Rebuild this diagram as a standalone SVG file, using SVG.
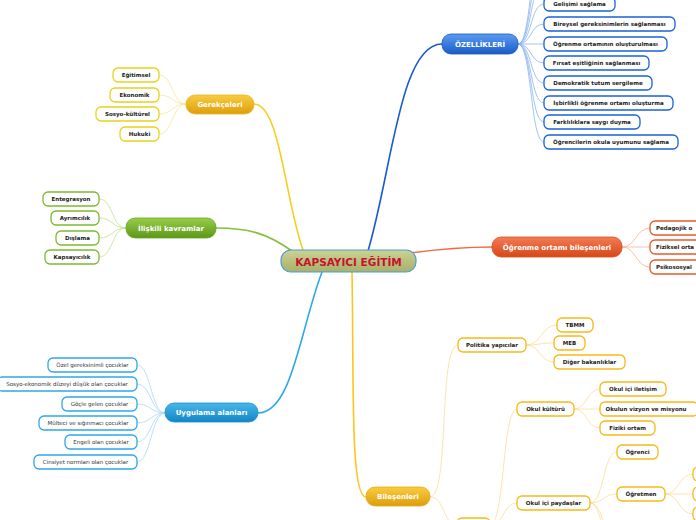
<svg xmlns="http://www.w3.org/2000/svg" width="696" height="520" viewBox="0 0 696 520">
<defs>
<linearGradient id="gBlue" x1="0" y1="0" x2="0" y2="1"><stop offset="0" stop-color="#5a9cf2"/><stop offset="1" stop-color="#1a5cc6"/></linearGradient>
<linearGradient id="gGold" x1="0" y1="0" x2="0" y2="1"><stop offset="0" stop-color="#f8cc40"/><stop offset="1" stop-color="#dd9e0c"/></linearGradient>
<linearGradient id="gGreen" x1="0" y1="0" x2="0" y2="1"><stop offset="0" stop-color="#98cc48"/><stop offset="1" stop-color="#5c9818"/></linearGradient>
<linearGradient id="gOrange" x1="0" y1="0" x2="0" y2="1"><stop offset="0" stop-color="#f27c54"/><stop offset="1" stop-color="#d64818"/></linearGradient>
<linearGradient id="gSky" x1="0" y1="0" x2="0" y2="1"><stop offset="0" stop-color="#48b6ea"/><stop offset="1" stop-color="#1286c6"/></linearGradient>
<linearGradient id="gCenter" x1="0" y1="0" x2="0" y2="1"><stop offset="0" stop-color="#cbd294"/><stop offset="1" stop-color="#a8b06a"/></linearGradient>
<style>
text{font-family:"DejaVu Sans","Liberation Sans",sans-serif;text-anchor:middle;dominant-baseline:central}
.main{font-size:7px;font-weight:bold;fill:#fff}
.leaf{font-size:5.5px;font-weight:bold;fill:#222}
.leafn{font-size:5.5px;fill:#333}
.c rect{fill:#fff;stroke-width:1.3}
.cb rect{stroke:#1a62d8}
.cy rect{stroke:#e6d41c}
.cg rect{stroke:#7cba2e}
.co rect{stroke:#e85a2a}
.cs rect{stroke:#2ea8e8}
.cgo rect{stroke:#f8b818}
#connectors path{fill:none}
.kb{stroke:#1a5ad0;stroke-width:1.6}
.ky{stroke:#f2d020;stroke-width:1.6}
.kg{stroke:#86c03a;stroke-width:1.6}
.ko{stroke:#f06a40;stroke-width:1.6}
.ks{stroke:#2ea8e8;stroke-width:1.6}
.kgo{stroke:#ffc420;stroke-width:1.6}
.tb{stroke:#8ab4f0;stroke-width:0.8}
.ty{stroke:#f4e890;stroke-width:0.8}
.tg{stroke:#c0e090;stroke-width:0.8}
.to{stroke:#f8b098;stroke-width:0.8}
.ts{stroke:#a8d8f4;stroke-width:0.8}
.tgo{stroke:#fddc98;stroke-width:0.8}
</style>
</defs>
<rect width="696" height="520" fill="#fff"/>
<g id="connectors">
<path class="kb" d="M368,251 C392,170 400,44 442,44"/>
<path class="ky" d="M254,104 C280,104 285,200 303,250"/>
<path class="kg" d="M216,228 C250,228 268,234 292,251"/>
<path class="ko" d="M410,253 C440,249 460,247 492,247"/>
<path class="ks" d="M258,413 C292,413 300,330 322,272"/>
<path class="kgo" d="M352,272 C354,380 350,497 366,497"/>
<path class="tb" d="M518,44 C532,44 530,-60 544,-60"/>
<path class="tb" d="M518,44 C532,44 530,-40 544,-40"/>
<path class="tb" d="M518,44 C532,44 530,-18 544,-18"/>
<path class="tb" d="M518,44 C532,44 530,4 544,4"/>
<path class="tb" d="M518,44 C532,44 530,24 544,24"/>
<path class="tb" d="M518,44 C532,44 530,44 544,44"/>
<path class="tb" d="M518,44 C532,44 530,63 544,63"/>
<path class="tb" d="M518,44 C532,44 530,83 544,83"/>
<path class="tb" d="M518,44 C532,44 530,103 544,103"/>
<path class="tb" d="M518,44 C532,44 530,122 544,122"/>
<path class="tb" d="M518,44 C532,44 530,142 544,142"/>
<path class="ty" d="M186,104 C172,104 173,75 159,75"/>
<path class="ty" d="M186,104 C172,104 173,95 159,95"/>
<path class="ty" d="M186,104 C172,104 173,114 159,114"/>
<path class="ty" d="M186,104 C172,104 173,134 159,134"/>
<path class="tg" d="M126,228 C112,228 113,199 99,199"/>
<path class="tg" d="M126,228 C112,228 113,218 99,218"/>
<path class="tg" d="M126,228 C112,228 113,238 99,238"/>
<path class="tg" d="M126,228 C112,228 113,257 99,257"/>
<path class="to" d="M622,247 C636,247 636,228 650,228"/>
<path class="to" d="M622,247 C636,247 636,247 650,247"/>
<path class="to" d="M622,247 C636,247 636,267 650,267"/>
<path class="ts" d="M165,413 C151,413 151,365 137,365"/>
<path class="ts" d="M165,413 C151,413 151,384 137,384"/>
<path class="ts" d="M165,413 C151,413 151,404 137,404"/>
<path class="ts" d="M165,413 C151,413 151,423 137,423"/>
<path class="ts" d="M165,413 C151,413 151,442 137,442"/>
<path class="ts" d="M165,413 C151,413 151,462 137,462"/>
<path class="tgo" d="M430,497 C450,497 438,345 458,345"/>
<path class="tgo" d="M430,497 C445,497 443,525 457,525"/>
<path class="tgo" d="M526,345 C542,345 541,325 557,325"/>
<path class="tgo" d="M526,345 C540,345 540,343 554,343"/>
<path class="tgo" d="M526,345 C540,345 540,362 554,362"/>
<path class="tgo" d="M490,525 C505,525 502,409 517,409"/>
<path class="tgo" d="M490,525 C505,525 502,503 517,503"/>
<path class="tgo" d="M574,409 C587,409 587,389 600,389"/>
<path class="tgo" d="M574,409 C587,409 587,409 600,409"/>
<path class="tgo" d="M574,409 C587,409 587,428 600,428"/>
<path class="tgo" d="M590,503 C604,503 603,452 617,452"/>
<path class="tgo" d="M590,503 C604,503 603,494 617,494"/>
<path class="tgo" d="M590,503 C604,503 603,540 617,540"/>
<path class="tgo" d="M590,503 C604,503 603,560 617,560"/>
<path class="tgo" d="M665,494 C679,494 679,474 693,474"/>
<path class="tgo" d="M665,494 C679,494 679,494 693,494"/>
<path class="tgo" d="M665,494 C679,494 679,514 693,514"/>
</g>
<g id="center"><rect x="281" y="250" width="135" height="22" rx="10" fill="url(#gCenter)" stroke="#4a9ed8" stroke-width="1.2"/><text x="348.5" y="261.5" style="font-size:10.5px;font-weight:bold;fill:#c4122f">KAPSAYICI EĞİTİM</text></g>
<g id="ozellikleri"><rect x="442" y="34" width="76" height="20" rx="9" fill="url(#gBlue)" stroke="#1c56b8" stroke-width="0.8"/><text class="main" x="480" y="44.5">ÖZELLİKLERİ</text></g>
<g id="gerekceleri"><rect x="186" y="95" width="68" height="19" rx="9" fill="url(#gGold)" stroke="#e8b818" stroke-width="0.8"/><text class="main" x="220" y="104.5">Gerekçeleri</text></g>
<g id="iliskili"><rect x="126" y="218" width="90" height="20" rx="9" fill="url(#gGreen)" stroke="#6aa428" stroke-width="0.8"/><text class="main" x="171" y="228.5">İlişkili kavramlar</text></g>
<g id="ogrenme-ortami"><rect x="492" y="237" width="130" height="20" rx="9" fill="url(#gOrange)" stroke="#d85020" stroke-width="0.8"/><text class="main" x="557" y="247.5">Öğrenme ortamı bileşenleri</text></g>
<g id="uygulama"><rect x="165" y="403" width="93" height="19" rx="9" fill="url(#gSky)" stroke="#1a90d0" stroke-width="0.8"/><text class="main" x="211.5" y="412.5">Uygulama alanları</text></g>
<g id="bilesenleri"><rect x="366" y="487" width="64" height="19" rx="9" fill="url(#gGold)" stroke="#e8a810" stroke-width="0.8"/><text class="main" x="398" y="496.5">Bileşenleri</text></g>

<g id="oz1" class="c cb"><rect x="544" y="-3" width="71" height="14" rx="5"/><text class="leaf" x="579.5" y="4">Gelişimi sağlama</text></g>
<g id="oz2" class="c cb"><rect x="544" y="17" width="131" height="14" rx="5"/><text class="leaf" x="609.5" y="24">Bireysel gereksinimlerin sağlanması</text></g>
<g id="oz3" class="c cb"><rect x="544" y="37" width="123" height="14" rx="5"/><text class="leaf" x="605.5" y="44">Öğrenme ortamının oluşturulması</text></g>
<g id="oz4" class="c cb"><rect x="544" y="56" width="105" height="14" rx="5"/><text class="leaf" x="596.5" y="63">Fırsat eşitliğinin sağlanması</text></g>
<g id="oz5" class="c cb"><rect x="544" y="76" width="108" height="14" rx="5"/><text class="leaf" x="598" y="83">Demokratik tutum sergileme</text></g>
<g id="oz6" class="c cb"><rect x="544" y="96" width="129" height="14" rx="5"/><text class="leaf" x="608.5" y="103">İşbirlikli öğrenme ortamı oluşturma</text></g>
<g id="oz7" class="c cb"><rect x="544" y="115" width="96" height="14" rx="5"/><text class="leaf" x="592" y="122">Farklılıklara saygı duyma</text></g>
<g id="oz8" class="c cb"><rect x="544" y="135" width="134" height="14" rx="5"/><text class="leaf" x="611" y="142">Öğrencilerin okula uyumunu sağlama</text></g>

<g id="ge1" class="c cy"><rect x="113" y="68" width="46" height="14" rx="5"/><text class="leaf" x="136" y="75">Eğitimsel</text></g>
<g id="ge2" class="c cy"><rect x="110" y="88" width="49" height="14" rx="5"/><text class="leaf" x="134.5" y="95">Ekonomik</text></g>
<g id="ge3" class="c cy"><rect x="96" y="107" width="63" height="14" rx="5"/><text class="leaf" x="127.5" y="114">Sosyo-kültürel</text></g>
<g id="ge4" class="c cy"><rect x="120" y="127" width="39" height="14" rx="5"/><text class="leaf" x="139.5" y="134">Hukuki</text></g>

<g id="il1" class="c cg"><rect x="43" y="192" width="56" height="14" rx="5"/><text class="leaf" x="71" y="199">Entegrasyon</text></g>
<g id="il2" class="c cg"><rect x="51" y="211" width="48" height="14" rx="5"/><text class="leaf" x="75" y="218">Ayrımcılık</text></g>
<g id="il3" class="c cg"><rect x="56" y="231" width="43" height="14" rx="5"/><text class="leaf" x="77.5" y="238">Dışlama</text></g>
<g id="il4" class="c cg"><rect x="45" y="250" width="54" height="14" rx="5"/><text class="leaf" x="72" y="257">Kapsayıcılık</text></g>

<g id="oo1" class="c co"><rect x="650" y="221" width="80" height="14" rx="5"/><text class="leaf" x="656" y="228" style="text-anchor:start">Pedagojik o</text></g>
<g id="oo2" class="c co"><rect x="650" y="240" width="80" height="14" rx="5"/><text class="leaf" x="656" y="247" style="text-anchor:start">Fiziksel orta</text></g>
<g id="oo3" class="c co"><rect x="650" y="260" width="80" height="14" rx="5"/><text class="leaf" x="656" y="267" style="text-anchor:start">Psikososyal</text></g>

<g id="uy1" class="c cs"><rect x="48" y="358" width="89" height="14" rx="5"/><text class="leafn" x="92.5" y="365">Özel gereksinimli çocuklar</text></g>
<g id="uy2" class="c cs"><rect x="-3" y="377" width="140" height="14" rx="5"/><text class="leafn" x="67" y="384">Sosyo-ekonomik düzeyi düşük olan çocuklar</text></g>
<g id="uy3" class="c cs"><rect x="62" y="397" width="75" height="14" rx="5"/><text class="leafn" x="99.5" y="404">Göçle gelen çocuklar</text></g>
<g id="uy4" class="c cs"><rect x="39" y="416" width="98" height="14" rx="5"/><text class="leafn" x="88" y="423">Mülteci ve sığınmacı çocuklar</text></g>
<g id="uy5" class="c cs"><rect x="65" y="435" width="72" height="14" rx="5"/><text class="leafn" x="101" y="442">Engeli olan çocuklar</text></g>
<g id="uy6" class="c cs"><rect x="34" y="455" width="103" height="14" rx="5"/><text class="leafn" x="85.5" y="462">Cinsiyet normları olan çocuklar</text></g>

<g id="politika" class="c cgo"><rect x="458" y="338" width="68" height="14" rx="5"/><text class="leaf" x="492" y="345">Politika yapıcılar</text></g>
<g id="tbmm" class="c cgo"><rect x="557" y="318" width="36" height="14" rx="5"/><text class="leaf" x="575" y="325">TBMM</text></g>
<g id="meb" class="c cgo"><rect x="554" y="336" width="31" height="14" rx="5"/><text class="leaf" x="569.5" y="343">MEB</text></g>
<g id="diger" class="c cgo"><rect x="554" y="355" width="71" height="14" rx="5"/><text class="leaf" x="589.5" y="362">Diğer bakanlıklar</text></g>
<g id="okul" class="c cgo"><rect x="457" y="518" width="33" height="14" rx="5"/></g>
<g id="okulkulturu" class="c cgo"><rect x="517" y="402" width="57" height="14" rx="5"/><text class="leaf" x="545.5" y="409">Okul kültürü</text></g>
<g id="iletisim" class="c cgo"><rect x="600" y="382" width="66" height="14" rx="5"/><text class="leaf" x="633" y="389">Okul içi iletişim</text></g>
<g id="vizyon" class="c cgo"><rect x="600" y="402" width="98" height="14" rx="5"/><text class="leaf" x="646" y="409">Okulun vizyon ve misyonu</text></g>
<g id="fiziki" class="c cgo"><rect x="600" y="421" width="55" height="14" rx="5"/><text class="leaf" x="627.5" y="428">Fiziki ortam</text></g>
<g id="paydaslar" class="c cgo"><rect x="517" y="496" width="73" height="14" rx="5"/><text class="leaf" x="553.5" y="503">Okul içi paydaşlar</text></g>
<g id="ogrenci" class="c cgo"><rect x="617" y="445" width="41" height="14" rx="5"/><text class="leaf" x="637.5" y="452">Öğrenci</text></g>
<g id="ogretmen" class="c cgo"><rect x="617" y="487" width="48" height="14" rx="5"/><text class="leaf" x="641" y="494">Öğretmen</text></g>
<g id="og1" class="c cgo"><rect x="693" y="467" width="40" height="14" rx="5"/></g>
<g id="og2" class="c cgo"><rect x="693" y="487" width="40" height="14" rx="5"/></g>
<g id="og3" class="c cgo"><rect x="693" y="507" width="40" height="14" rx="5"/></g>
</svg>
